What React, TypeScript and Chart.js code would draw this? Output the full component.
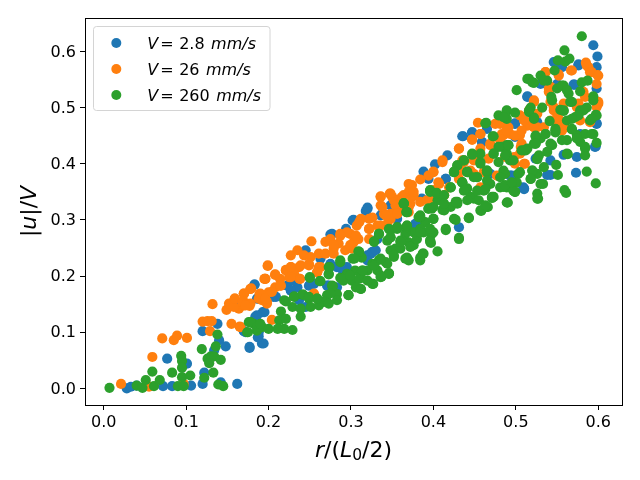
import React, { useEffect, useRef } from "react";
import { Chart, registerables } from "chart.js";

Chart.register(...registerables);

type Pt = [number, number];

const speedLabels = ["2.8", "26", "260"];
const speedColors = ["#1f77b4", "#ff7f0e", "#2ca02c"];

const slowPoints: Pt[] = [
  [.028,0],[.033,.003],[.040,.005],[.072,.004],[.083,.004],[.106,.005],[.120,.008],[.077,.053],[.101,.044],[.122,.028],[.142,.011],[.162,.008],
  [.120,.102],[.138,.115],[.140,.086],[.148,.075],[.134,.068],[.177,.072],[.192,.080],[.188,.093],[.170,.102],[.184,.128],[.193,.136],[.183,.185],[.186,.160],[.160,.151],
  [.183,.185],[.188,.160],[.206,.163],[.223,.183],[.235,.180],[.249,.183],[.271,.183],[.283,.180],[.291,.213],[.283,.216],[.245,.246],[.263,.231],[.275,.274],[.294,.284],[.302,.299],[.318,.316],[.320,.322],[.326,.243],[.320,.237],[.338,.311],[.352,.326],[.332,.266],[.356,.302],[.255,.186],[.227,.174],
  [.177,.074],[.194,.080],[.187,.091],[.195,.136],[.186,.130],[.188,.100],[.209,.163],[.223,.183],[.237,.157],[.245,.145],[.273,.183],[.289,.213],[.295,.216],[.275,.222],[.172,.100],[.231,.192],
  [.436,.449],[.447,.456],[.459,.439],[.465,.462],[.417,.415],[.402,.399],[.388,.386],[.415,.373],[.431,.287],[.378,.293],[.352,.326],[.469,.382],[.394,.373],[.386,.338],
  [.509,.358],[.594,.611],[.599,.591],[.598,.572],[.548,.581],[.576,.577],[.571,.541],[.514,.520],[.530,.542],[.598,.534],[.499,.472],[.526,.474],[.598,.472],[.597,.431],[.574,.412],[.573,.384],[.558,.416],[.542,.406],[.538,.380],[.542,.380],[.510,.356],[.493,.379],[.550,.542],[.499,.448],[.578,.453],
  [.320,.320],[.303,.300],[.277,.275],[.348,.326],[.324,.240],[.289,.213],[.380,.290],[.336,.308],[.330,.246],[.320,.228],
  [.435,.449],[.447,.456],[.459,.438],[.415,.373],[.499,.471],[.510,.355],[.495,.379],[.524,.409],
  [.514,.519],[.576,.575],[.570,.541],[.598,.471],[.596,.430],[.556,.572],[.546,.581]
];

const midPoints: Pt[] = [
  [.021,.008],[.055,.003],[.059,.056],[.071,.089],[.085,.086],[.089,.094],[.101,.090],[.097,.008],[.120,.119],[.126,.120],[.131,.120],[.129,.102],[.132,.150],[.155,.115],[.165,.110],[.149,.140],[.152,.151],[.159,.160],[.164,.142],[.170,.169],[.179,.178],[.170,.148],[.177,.147],[.190,.167],[.192,.157],[.196,.195],[.158,.145],
  [.159,.160],[.170,.168],[.178,.177],[.196,.195],[.199,.218],[.208,.202],[.214,.195],[.189,.168],[.200,.171],[.208,.180],[.221,.211],[.227,.216],[.225,.198],[.237,.216],[.238,.195],[.249,.219],[.227,.237],[.235,.246],[.243,.237],[.251,.234],[.252,.262],[.261,.240],[.269,.240],[.269,.261],[.275,.266],[.279,.249],[.287,.275],[.293,.246],[.301,.249],[.299,.275],[.307,.290],[.309,.266],[.312,.302],[.326,.304],[.322,.284],[.322,.266],[.336,.342],[.347,.347],[.336,.326],[.340,.311],[.348,.311],[.356,.314],[.364,.344],[.370,.364],[.370,.350],[.362,.320],[.261,.216],[.259,.207],[.255,.168],[.170,.154],[.178,.151],[.188,.160],[.198,.154],[.214,.183],[.231,.204],[.285,.258],[.303,.260],[.332,.290],[.344,.293],[.352,.335],
  [.199,.219],[.195,.195],[.208,.203],[.178,.177],[.170,.169],[.168,.154],[.172,.148],[.190,.169],[.198,.151],[.196,.160],[.204,.172],[.215,.183],[.221,.210],[.227,.216],[.239,.219],[.249,.222],[.238,.195],[.263,.216],[.259,.207],[.255,.169],[.204,.122],[.166,.109],[.227,.198],
  [.454,.473],[.475,.471],[.447,.443],[.457,.453],[.431,.427],[.411,.406],[.400,.386],[.394,.379],[.384,.372],[.374,.362],[.406,.367],[.400,.353],[.413,.344],[.392,.335],[.374,.341],[.360,.338],[.350,.341],[.354,.326],[.348,.302],[.356,.311],[.370,.314],[.384,.332],[.435,.406],[.431,.373],[.449,.406],[.467,.409],[.445,.388],[.461,.385],[.483,.453],[.489,.465],[.481,.433],[.469,.436],[.487,.412],[.477,.379],[.457,.358],[.372,.329],
  [.585,.580],[.588,.572],[.590,.563],[.567,.566],[.536,.563],[.552,.559],[.599,.558],[.598,.542],[.542,.537],[.540,.528],[.600,.510],[.598,.501],[.522,.513],[.542,.510],[.546,.495],[.505,.486],[.481,.471],[.491,.465],[.493,.453],[.485,.451],[.514,.474],[.522,.465],[.534,.465],[.552,.480],[.552,.471],[.578,.477],[.590,.474],[.505,.451],[.507,.436],[.505,.418],[.499,.400],[.511,.400],[.560,.465],[.558,.507],[.582,.528],[.481,.442],[.542,.477],[.526,.489],[.574,.501],
  [.336,.341],[.348,.347],[.362,.341],[.376,.344],[.338,.323],[.342,.308],[.356,.311],[.370,.323],[.322,.302],[.310,.296],[.295,.278],[.287,.272],[.279,.255],[.279,.240],[.306,.272],[.299,.255],[.322,.284],[.336,.290],[.376,.350],
  [.447,.443],[.457,.453],[.431,.427],[.411,.403],[.400,.385],[.407,.364],[.419,.358],[.489,.459],[.481,.444],[.469,.433],[.457,.427],[.449,.412],[.437,.403],[.433,.388],[.449,.382],[.499,.450],[.506,.430],[.526,.465],[.514,.468],[.498,.412],[.510,.400],[.398,.335],
  [.536,.563],[.552,.557],[.568,.566],[.586,.575],[.592,.563],[.600,.557],[.540,.534],[.522,.510],[.600,.507],[.516,.495],[.546,.501],[.550,.483],[.507,.459],[.522,.465],[.556,.459],[.576,.507],[.584,.519],[.510,.477]
];

const fastPoints: Pt[] = [
  [.007,.001],[.040,.005],[.047,.001],[.051,.015],[.059,.030],[.061,.004],[.068,.015],[.083,.028],[.094,.058],[.095,.049],[.095,.037],[.095,.020],[.105,.023],[.090,.004],[.097,.004],[.119,.070],[.122,.019],[.133,.028],[.136,.075],[.138,.096],[.126,.053],[.130,.057],[.134,.057],[.128,.045],[.142,.051],[.139,.007],[.145,.004],[.176,.118],[.175,.100],[.182,.115],[.188,.112],[.192,.109],[.186,.103],
  [.219,.157],[.231,.163],[.241,.167],[.250,.197],[.262,.191],[.249,.160],[.259,.160],[.271,.166],[.277,.183],[.273,.216],[.273,.203],[.287,.228],[.287,.197],[.291,.192],[.297,.166],[.302,.231],[.309,.244],[.313,.233],[.305,.210],[.312,.204],[.301,.192],[.312,.177],[.326,.222],[.327,.186],[.337,.199],[.346,.205],[.334,.229],[.342,.225],[.328,.262],[.334,.275],[.344,.263],[.348,.281],[.356,.284],[.354,.249],[.360,.263],[.352,.234],[.366,.231],[.368,.284],[.364,.330],[.367,.314],[.267,.154],[.283,.168],[.295,.204],[.320,.210],[.332,.210],[.348,.246],[.370,.260],
  [.174,.100],[.178,.118],[.186,.109],[.200,.106],[.190,.115],[.215,.137],[.213,.121],[.219,.106],[.229,.104],[.221,.124],[.239,.128],[.229,.145],[.221,.155],[.231,.164],[.242,.167],[.249,.163],[.251,.145],[.261,.148],[.273,.151],[.283,.157],[.297,.166],[.278,.182],[.263,.191],[.250,.198],[.273,.204],[.274,.216],[.287,.225],[.289,.195],[.299,.201],[.310,.195],[.306,.180],[.326,.186],[.314,.210],[.336,.198],[.346,.205],[.344,.222],[.328,.219],[.370,.228],[.275,.169],[.259,.160],[.239,.142],[.211,.106],[.312,.177],[.320,.192],
  [.464,.473],[.479,.486],[.489,.495],[.489,.480],[.473,.449],[.483,.430],[.489,.433],[.473,.418],[.437,.406],[.429,.397],[.425,.385],[.447,.418],[.457,.418],[.457,.403],[.441,.386],[.465,.388],[.479,.403],[.489,.415],[.453,.376],[.435,.367],[.421,.358],[.396,.353],[.404,.348],[.364,.329],[.368,.314],[.394,.320],[.411,.318],[.384,.308],[.400,.302],[.390,.296],[.415,.284],[.431,.268],[.443,.304],[.425,.302],[.457,.317],[.465,.323],[.473,.341],[.489,.331],[.445,.341],[.429,.332],[.356,.287],[.368,.290],[.376,.278],[.398,.275],[.388,.278],[.409,.335],[.487,.382],[.469,.364],[.441,.356],[.421,.323],[.489,.358],[.348,.269],[.366,.275],[.396,.264],
  [.490,.331],[.499,.350],[.431,.266],[.443,.303],[.458,.316],[.466,.323],[.471,.339],[.397,.259],[.405,.244],[.387,.240],[.384,.233],[.368,.233],[.376,.255],[.362,.263],[.415,.282],[.400,.278],[.384,.284],[.427,.300],[.396,.352],[.413,.317],[.421,.358],[.435,.367],[.453,.376],[.425,.385],[.441,.385],[.465,.385],[.503,.382],[.481,.358],[.368,.287],[.384,.305],[.398,.320],[.429,.329],[.449,.338],[.461,.352],[.360,.249],
  [.580,.627],[.559,.602],[.551,.584],[.560,.582],[.565,.587],[.547,.566],[.530,.557],[.538,.548],[.514,.551],[.522,.544],[.501,.531],[.550,.534],[.558,.539],[.543,.519],[.544,.513],[.564,.525],[.578,.529],[.580,.545],[.587,.548],[.594,.520],[.594,.513],[.568,.510],[.532,.500],[.518,.500],[.516,.492],[.522,.482],[.489,.494],[.499,.491],[.554,.496],[.558,.494],[.578,.495],[.586,.500],[.572,.483],[.562,.477],[.597,.487],[.590,.477],[.541,.476],[.548,.462],[.568,.461],[.584,.453],[.594,.453],[.524,.449],[.536,.453],[.548,.456],[.485,.483],[.491,.433],[.507,.424],[.522,.436],[.544,.433],[.562,.442],[.578,.439],[.598,.437],[.584,.427],[.584,.415],[.563,.417],[.538,.421],[.526,.408],[.534,.394],[.549,.398],[.551,.380],[.520,.388],[.526,.382],[.518,.373],[.533,.364],[.499,.350],[.501,.367],[.505,.385],[.493,.406],[.485,.388],[.485,.359],[.526,.347],[.527,.338],[.559,.353],[.561,.348],[.586,.386],[.597,.365],[.489,.418],[.514,.427],[.530,.445],[.574,.451],[.487,.362],
  [.310,.243],[.304,.231],[.314,.210],[.328,.219],[.336,.231],[.346,.204],[.336,.201],[.368,.231],[.384,.228],[.388,.240],[.396,.261],[.372,.252],[.380,.266],[.352,.237],[.360,.261],[.348,.269],[.328,.261],[.334,.275],[.346,.284],[.356,.287],[.368,.290],[.384,.278],[.396,.284],[.382,.305],[.394,.320],[.400,.302],[.364,.329],[.368,.314],[.396,.350],[.405,.335],
  [.463,.472],[.472,.449],[.524,.450],[.524,.436],[.491,.433],[.479,.430],[.473,.418],[.487,.415],[.447,.416],[.437,.406],[.429,.397],[.425,.386],[.441,.385],[.457,.400],[.465,.388],[.497,.406],[.512,.424],[.526,.409],[.520,.388],[.518,.373],[.530,.364],[.497,.352],[.490,.331],[.471,.341],[.495,.367],[.481,.376],[.465,.370],[.449,.376],[.435,.367],[.404,.347],[.413,.344],[.437,.352],[.453,.352],[.463,.355],[.427,.332],[.441,.335],[.455,.335],[.526,.338],[.400,.323],[.413,.329],[.463,.326],
  [.516,.551],[.534,.548],[.520,.545],[.556,.539],[.562,.531],[.566,.510],[.558,.495],[.582,.495],[.576,.486],[.568,.480],[.598,.486],[.592,.480],[.516,.495],[.522,.480],[.548,.459],[.568,.462],[.536,.453],[.592,.453],[.584,.430],[.524,.436],[.542,.436],[.556,.442],[.574,.445],[.562,.418],[.510,.424],[.528,.415]
];

const seriesPoints = [slowPoints, midPoints, fastPoints];
const FONT = '"DejaVu Sans"';

type Run = { text: string; style?: string; size?: number; dy?: number; gap?: number };

function runsWidth(ctx: CanvasRenderingContext2D, runs: Run[], size: number) {
  let w = 0;
  for (const r of runs) {
    ctx.font = `${r.style ?? ""} ${r.size ?? size}px ${FONT}`;
    w += ctx.measureText(r.text).width + (r.gap ?? 0);
  }
  return w;
}

function drawRuns(ctx: CanvasRenderingContext2D, runs: Run[], x: number, y: number, size: number) {
  let cx = x;
  for (const r of runs) {
    ctx.font = `${r.style ?? ""} ${r.size ?? size}px ${FONT}`;
    ctx.fillText(r.text, cx, y + (r.dy ?? 0));
    cx += ctx.measureText(r.text).width + (r.gap ?? 0);
  }
}

const annotate = {
  id: "annotate",
  beforeDraw(chart: any) {
    const items = chart.scales.y.getLabelItems();
    for (const item of items) {
      if (!item.options.shifted) {
        item.options.translation[1] += 1;
        item.options.shifted = true;
      }
    }
  },
  afterDatasetsDraw(chart: any) {
    const { ctx, chartArea: a } = chart;
    ctx.save();
    ctx.strokeStyle = "#000";
    ctx.lineWidth = 1;
    ctx.strokeRect(a.left + 0.5, a.top + 0.5, a.right - a.left, a.bottom - a.top);

    const bx = 93.5, by = 26.5, bw = 176.5, bh = 84;
    ctx.beginPath();
    ctx.roundRect(bx, by, bw, bh, 3);
    ctx.fillStyle = "rgba(255,255,255,0.8)";
    ctx.fill();
    ctx.strokeStyle = "#d4d4d4";
    ctx.stroke();
    ctx.textBaseline = "alphabetic";
    speedLabels.forEach((v, i) => {
      const cy = 43 + i * 26;
      ctx.beginPath();
      ctx.arc(116.3, cy, 5, 0, Math.PI * 2);
      ctx.fillStyle = speedColors[i];
      ctx.fill();
      ctx.fillStyle = "#000";
      drawRuns(ctx, [
        { text: "V", style: "italic", gap: 2 },
        { text: "=", gap: 5.5 },
        { text: v, gap: 6.5 },
        { text: "mm/s", style: "italic" },
      ], 147.3, cy + 5.5, 16);
    });

    ctx.fillStyle = "#000";
    const xRuns: Run[] = [
      { text: "r", style: "italic" },
      { text: "/(" },
      { text: "L", style: "italic" },
      { text: "0", size: 15.5, dy: 3.3 },
      { text: "/2)" },
    ];
    const xw = runsWidth(ctx, xRuns, 22);
    drawRuns(ctx, xRuns, (a.left + a.right) / 2 - xw / 2, 457, 22);

    const yRuns: Run[] = [
      { text: "|" },
      { text: "u", style: "italic" },
      { text: "|/" },
      { text: "V", style: "italic" },
    ];
    const yw = runsWidth(ctx, yRuns, 22);
    ctx.translate(35.5, (a.top + a.bottom) / 2);
    ctx.rotate(-Math.PI / 2);
    drawRuns(ctx, yRuns, -yw / 2, 0, 22);
    ctx.restore();
  },
};

export default function App() {
  const ref = useRef<HTMLCanvasElement>(null);
  useEffect(() => {
    const chart = new Chart(ref.current!, {
      type: "scatter",
      data: {
        datasets: speedLabels.map((v, i) => ({
          label: `V = ${v} mm/s`,
          data: seriesPoints[i].map(([x, y]) => ({ x, y })),
          backgroundColor: speedColors[i],
          borderWidth: 0,
          pointRadius: 5.1,
          order: 3 - i,
        })),
      },
      options: {
        responsive: false,
        animation: false,
        layout: { padding: { top: 18, right: 18, left: 0, bottom: 0 } },
        plugins: { legend: { display: false }, tooltip: { enabled: false }, title: { display: false } },
        scales: {
          x: {
            type: "linear",
            min: -0.0227,
            max: 0.6288,
            afterFit: (s: any) => { s.height = 75; },
            grid: { drawOnChartArea: false, drawTicks: true, tickLength: 5, color: "#000" },
            border: { display: true, color: "#000" },
            ticks: {
              stepSize: 0.1,
              includeBounds: false,
              color: "#000",
              padding: 3,
              maxRotation: 0,
              autoSkip: false,
              font: { family: "DejaVu Sans", size: 16 },
              callback: (v: any) => Number(v).toFixed(1),
            },
          },
          y: {
            type: "linear",
            min: -0.0295,
            max: 0.6595,
            afterFit: (s: any) => { s.width = 85; },
            grid: { drawOnChartArea: false, drawTicks: true, tickLength: 5, color: "#000" },
            border: { display: true, color: "#000" },
            ticks: {
              stepSize: 0.1,
              includeBounds: false,
              color: "#000",
              padding: 4,
              autoSkip: false,
              font: { family: "DejaVu Sans", size: 16 },
              callback: (v: any) => Number(v).toFixed(1),
            },
          },
        },
      },
      plugins: [annotate],
    } as any);
    return () => chart.destroy();
  }, []);
  return (
    <div style={{ position: "absolute", left: 0, top: 0, width: 640, height: 480, background: "#fff" }}>
      <canvas ref={ref} width={640} height={480} style={{ display: "block" }} />
    </div>
  );
}
